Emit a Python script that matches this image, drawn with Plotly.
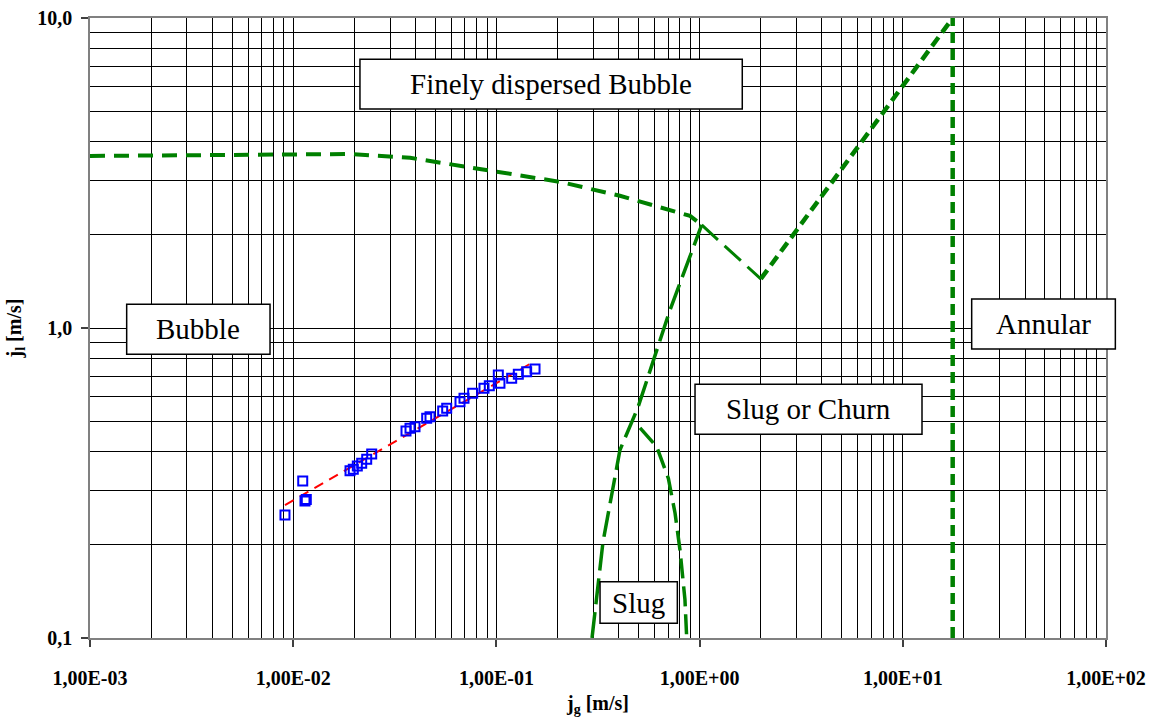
import plotly.graph_objects as go

# --- measured superficial velocities (gas j_g, liquid j_l), m/s ---
jg_meas = [0.00911, 0.01114, 0.01143, 0.01160, 0.01904, 0.01976, 0.02068, 0.02173,
           0.02300, 0.02434, 0.03590, 0.03757, 0.03976, 0.04539, 0.04712, 0.05441,
           0.05693, 0.06620, 0.06927, 0.07644, 0.08690, 0.09229, 0.1022, 0.1041,
           0.1189, 0.1282, 0.1409, 0.1549]
jl_meas = [0.2493, 0.3209, 0.2766, 0.2800, 0.3465, 0.3501, 0.3588, 0.3660,
           0.3771, 0.3922, 0.4653, 0.4748, 0.4804, 0.5113, 0.5175, 0.5399,
           0.5508, 0.5786, 0.5933, 0.6158, 0.6391, 0.6516, 0.7054, 0.6633,
           0.6883, 0.7090, 0.7228, 0.7374]

# power-law trend through the measurements (end points)
jg_trend = [0.00911, 0.155]
jl_trend = [0.2685, 0.783]

# --- flow-regime transition boundaries ---
jg_dispersed = [0.001, 0.019, 0.0376, 0.104, 0.206, 0.405, 0.897, 1.024]
jl_dispersed = [3.59, 3.64, 3.54, 3.19, 2.96, 2.67, 2.30, 2.15]

jg_slug_churn = [0.2955, 0.3346, 0.4055, 0.498, 0.715, 1.024]
jl_slug_churn = [0.100, 0.204, 0.404, 0.556, 1.143, 2.15]

jg_churn_v = [1.024, 2.0]
jl_churn_v = [2.15, 1.44]

jg_annular_rise = [2.0, 17.6]
jl_annular_rise = [1.44, 10.0]

jg_annular = [17.6, 17.6]
jl_annular = [0.1, 10.0]

jg_slug = [0.509, 0.615, 0.702, 0.757, 0.801, 0.847, 0.864]
jl_slug = [0.476, 0.414, 0.327, 0.253, 0.192, 0.133, 0.100]

# --- axis ticks ---
x_ticks = [1e-3, 1e-2, 1e-1, 1e0, 1e1, 1e2]
x_tick_text = ["1,00E-03", "1,00E-02", "1,00E-01", "1,00E+00", "1,00E+01", "1,00E+02"]
y_ticks = [0.1, 1.0, 10.0]
y_tick_text = ["0,1", "1,0", "10,0"]

x_minor = [m * 10.0 ** e for e in range(-3, 2) for m in range(2, 10)]
y_minor = [m * 10.0 ** e for e in range(-1, 1) for m in range(2, 10)]

# --- regime labels: (text, x0, x1, y0, y1) in paper fractions ---
regimes = [
    ("Finely dispersed Bubble", 0.2657, 0.6420, 0.8532, 0.9334),
    ("Bubble", 0.0361, 0.1772, 0.4576, 0.5382),
    ("Annular", 0.8678, 1.0092, 0.4661, 0.5468),
    ("Slug or Churn", 0.5955, 0.8189, 0.3285, 0.4092),
    ("Slug", 0.5020, 0.5781, 0.0237, 0.0908),
]

GREEN = "#008000"
SERIF = "Liberation Serif"

fig = go.Figure()

boundaries = [
    (jg_dispersed, jl_dispersed, 4, "15px,9px"),
    (jg_slug_churn, jl_slug_churn, 3.5, "26px,8px"),
    (jg_churn_v, jl_churn_v, 3, "22px,9px"),
    (jg_annular_rise, jl_annular_rise, 4.5, "11px,6px"),
    (jg_annular, jl_annular, 4.5, "11px,6px"),
    (jg_slug, jl_slug, 3.5, "20px,8px"),
]
for bx, by, w, dash in boundaries:
    fig.add_trace(go.Scatter(x=bx, y=by, mode="lines",
                             line=dict(color=GREEN, width=w, dash=dash),
                             showlegend=False, hoverinfo="skip"))

fig.add_trace(go.Scatter(x=jg_trend, y=jl_trend, mode="lines",
                         line=dict(color="#ff0000", width=2, dash="10px,7px"),
                         showlegend=False))

fig.add_trace(go.Scatter(x=jg_meas, y=jl_meas, mode="markers",
                         marker=dict(symbol="square-open", size=9, color="#0000ff",
                                     line=dict(color="#0000ff", width=2)),
                         showlegend=False))

for text, x0, x1, y0, y1 in regimes:
    fig.add_shape(type="rect", xref="paper", yref="paper",
                  x0=x0, x1=x1, y0=y0, y1=y1,
                  fillcolor="white", line=dict(color="black", width=1.5),
                  layer="above")
    fig.add_annotation(xref="paper", yref="paper",
                       x=(x0 + x1) / 2, y=(y0 + y1) / 2,
                       text=text, showarrow=False,
                       xanchor="center", yanchor="middle",
                       font=dict(family=SERIF, size=29, color="black"))

axis_common = dict(
    type="log",
    automargin=False,
    showgrid=True, gridcolor="black", gridwidth=1.4,
    showline=True, linecolor="#808080", linewidth=1.5, mirror=True,
    ticks="outside", ticklen=7, tickcolor="#404040", tickwidth=1.5,
    zeroline=False,
)

fig.update_xaxes(
    **axis_common,
    range=[-3, 2],
    tickmode="array", tickvals=x_ticks, ticktext=x_tick_text,
    tickfont=dict(family=SERIF, size=20, color="black", weight="bold"),
    ticklabelstandoff=14,
    minor=dict(tickmode="array", tickvals=x_minor, showgrid=True,
               gridcolor="black", gridwidth=1.2, ticks=""),
    title=dict(text="j<sub>g</sub> [m/s]", standoff=14,
               font=dict(family=SERIF, size=20, color="black", weight="bold")),
)
fig.update_yaxes(
    **axis_common,
    range=[-1, 1],
    tickmode="array", tickvals=y_ticks, ticktext=y_tick_text,
    tickfont=dict(family=SERIF, size=20, color="black", weight="bold"),
    ticklabelstandoff=5,
    minor=dict(tickmode="array", tickvals=y_minor, showgrid=True,
               gridcolor="black", gridwidth=1.2, ticks=""),
    title=dict(text="j<sub>l</sub> [m/s]", standoff=10,
               font=dict(family=SERIF, size=20, color="black", weight="bold")),
)

fig.update_layout(
    width=1152, height=717,
    margin=dict(l=90, r=46, t=18, b=79),
    paper_bgcolor="white", plot_bgcolor="white",
    showlegend=False,
)

fig.write_html("out.html")
